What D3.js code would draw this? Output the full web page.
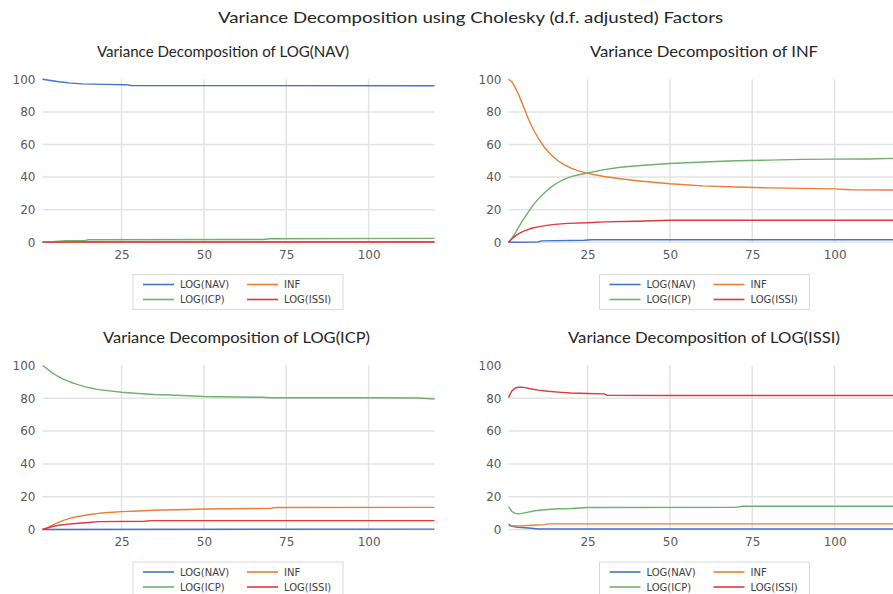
<!DOCTYPE html>
<html>
  <head>
    <meta charset="utf-8">
    <script src="https://d3js.org/d3.v7.min.js"></script>
    <title>Variance Decomposition</title>
    <style>
      body { margin: 0; background: #fff; }
      svg { display: block; }
    </style>
  </head>
  <body>

    <svg></svg>

    <script type="text/javascript">

      // ---- data ----
      var seriesNames = ["LOG(NAV)", "INF", "LOG(ICP)", "LOG(ISSI)"];
      var seriesColors = ["#4472c4", "#ed7d31", "#6cb26c", "#e0383b"];
      var mainTitle = "Variance Decomposition using Cholesky (d.f. adjusted) Factors";
      var panelTitles = ["Variance Decomposition of LOG(NAV)", "Variance Decomposition of INF",
                         "Variance Decomposition of LOG(ICP)", "Variance Decomposition of LOG(ISSI)"];
      var xTicks = [25, 50, 75, 100];
      var yTicks = [0, 20, 40, 60, 80, 100];

      // panel 1: LOG(NAV)
      var navNAV  = [[1,100],[3,99.4],[6,98.5],[9,97.8],[13,97.2],[20,96.9],[26,96.7],[28,96.2],[60,96.1],[120,96.0]];
      var navINF  = [[1,0],[10,0.2],[120,0.3]];
      var navICP  = [[1,0],[4,0.3],[7,0.8],[8,1.0],[14,1.2],[15,1.6],[68,1.7],[70,2.2],[120,2.4]];
      var navISSI = [[1,0.1],[10,0.2],[120,0.2]];

      // panel 2: INF
      var infNAV  = [[1,0],[10,0.2],[11,0.9],[24,1.3],[26,1.6],[120,1.6]];
      var infINF  = [[1,100],[2,98.5],[3,95],[4,91],[5,86],[6,81],[7,76],[8,71.5],[9,67.5],[10,64],[12,58],[14,53.5],
                     [16,50],[18,47.5],[20,45.5],[22,44],[25,42.3],[30,40.4],[35,39],[40,37.8],[45,36.8],[50,35.9],
                     [60,34.6],[70,33.9],[80,33.4],[90,33.1],[100,32.8],[105,32.2],[120,32.1]];
      var infICP  = [[1,0],[2,2.5],[3,5.5],[4,9],[5,12.5],[6,15.5],[7,18.5],[8,21.5],[9,24],[10,26.5],[12,30.5],[14,34],
                     [16,36.7],[18,38.8],[20,40.3],[22,41.3],[25,42.5],[30,44.6],[35,46],[40,47],[50,48.3],[60,49.3],
                     [70,50],[80,50.4],[90,50.9],[100,51],[110,51.1],[120,51.6]];
      var infISSI = [[1,0],[2,2],[3,3.8],[4,5.2],[5,6.3],[6,7.2],[8,8.6],[10,9.5],[12,10.2],[15,11],[19,11.6],[25,12],
                     [30,12.5],[40,12.9],[50,13.5],[120,13.5]];

      // panel 3: LOG(ICP)
      var icpNAV  = [[1,0],[120,0.2]];
      var icpINF  = [[1,0],[2,0.7],[3,1.6],[4,2.6],[5,3.6],[6,4.5],[7,5.3],[8,6],[10,7.2],[12,8],[14,8.7],[16,9.3],
                     [18,9.8],[20,10.2],[25,10.9],[30,11.3],[35,11.7],[45,12.2],[50,12.5],[70,12.9],[72,13.4],[120,13.5]];
      var icpICP  = [[1,100],[2,98.6],[3,97],[4,95.5],[5,94.2],[6,93.1],[7,92],[8,91.1],[9,90.3],[10,89.5],[12,88.2],
                     [14,87],[16,86.1],[18,85.3],[20,84.8],[25,83.7],[30,82.9],[35,82.3],[40,82],[45,81.6],[50,81.1],
                     [60,80.8],[68,80.6],[70,80.3],[100,80.3],[115,80.2],[120,79.6]];
      var icpISSI = [[1,0],[2,0.6],[3,1.2],[4,1.8],[6,2.6],[8,3.1],[11,3.7],[15,4.3],[18,4.8],[32,5],[34,5.4],[120,5.4]];

      // panel 4: LOG(ISSI)
      var issiNAV  = [[1,3.3],[2,2],[4,1.4],[8,0.8],[10,0.3],[120,0.3]];
      var issiINF  = [[1,2.2],[5,2.2],[8,2.6],[12,3],[13,3.4],[120,3.4]];
      var issiICP  = [[1,14],[2,11],[3,9.8],[4,9.6],[5,9.8],[7,10.6],[9,11.4],[12,12],[15,12.5],[20,12.8],[25,13.4],
                      [70,13.5],[72,14.2],[120,14.2]];
      var issiISSI = [[1,80.4],[2,84.5],[3,86.2],[4,86.7],[5,86.8],[6,86.5],[8,85.7],[10,85],[13,84.3],[17,83.6],
                      [20,83.2],[25,82.9],[30,82.7],[31,81.9],[50,81.7],[120,81.7]];

      var panelData = [
        [navNAV, navINF, navICP, navISSI],
        [infNAV, infINF, infICP, infISSI],
        [icpNAV, icpINF, icpICP, icpISSI],
        [issiNAV, issiINF, issiICP, issiISSI]
      ];

      // ---- layout ----
      var width = 893, height = 594;
      var panels = [
        {x0: 42.5,  x1: 434.5, yTop: 79.3,  yBot: 242.3, titleX: 223, titleW: 252, titleY: 57,  legX: 133, legY: 274.5},
        {x0: 508.5, x1: 900.5, yTop: 79.3,  yBot: 242.3, titleX: 704, titleW: 228, titleY: 57,  legX: 599.5, legY: 274.5},
        {x0: 42.5,  x1: 434.5, yTop: 365.5, yBot: 529.5, titleX: 236.5, titleW: 267, titleY: 343, legX: 133, legY: 562},
        {x0: 508.5, x1: 900.5, yTop: 365.5, yBot: 529.5, titleX: 704, titleW: 272, titleY: 343, legX: 599.5, legY: 562}
      ];

      var svg = d3.select("svg")
                  .attr("width", width)
                  .attr("height", height);

      svg.append("text")
        .attr("x", 470.5).attr("y", 23)
        .attr("text-anchor", "middle")
        .attr("textLength", 505).attr("lengthAdjust", "spacingAndGlyphs")
        .style("font-family", "Lato, 'Open Sans', sans-serif")
        .style("font-size", "15px")
        .attr("fill", "#262626")
        .text(mainTitle);

      panels.forEach(function (p, i) {
        var x = d3.scaleLinear().domain([1, 120]).range([p.x0, p.x1]);
        var y = d3.scaleLinear().domain([0, 100]).range([p.yBot, p.yTop]);
        var g = svg.append("g");

        g.append("text")
          .attr("x", p.titleX).attr("y", p.titleY)
          .attr("text-anchor", "middle")
          .attr("textLength", p.titleW).attr("lengthAdjust", "spacingAndGlyphs")
          .style("font-family", "Lato, 'Open Sans', sans-serif")
          .style("font-size", "15px")
          .attr("fill", "#262626")
          .text(panelTitles[i]);

        // grid
        g.selectAll("line.hgrid")
          .data(yTicks.filter(function (t) { return t < 100; }))
          .join("line")
          .attr("class", "hgrid")
          .attr("x1", p.x0).attr("x2", p.x1)
          .attr("y1", function (t) { return y(t); })
          .attr("y2", function (t) { return y(t); })
          .attr("stroke", "#e3e3e3").attr("stroke-width", 1.5);

        g.selectAll("line.vgrid")
          .data(xTicks)
          .join("line")
          .attr("class", "vgrid")
          .attr("x1", function (t) { return x(t); })
          .attr("x2", function (t) { return x(t); })
          .attr("y1", y(100)).attr("y2", y(0))
          .attr("stroke", "#e3e3e3").attr("stroke-width", 1.5);

        // axes (labels only)
        var yAxis = g.append("g")
          .attr("transform", "translate(" + (p.x0 - 7) + ",0)")
          .call(d3.axisLeft(y).tickValues(yTicks).tickSize(0).tickPadding(0));
        var xAxis = g.append("g")
          .attr("transform", "translate(0," + (p.yBot + 6) + ")")
          .call(d3.axisBottom(x).tickValues(xTicks).tickSize(0).tickPadding(0));
        [yAxis, xAxis].forEach(function (a) {
          a.select(".domain").remove();
          a.selectAll("text")
            .style("font-family", "'DejaVu Sans', sans-serif")
            .style("font-size", "12px")
            .attr("fill", "#595959");
        });
        xAxis.selectAll("text").attr("dy", "0.9em");

        // lines
        var line = d3.line()
          .x(function (d) { return x(d[0]); })
          .y(function (d) { return y(d[1]); });

        g.selectAll("path.series")
          .data(panelData[i])
          .join("path")
          .attr("class", "series")
          .attr("d", line)
          .attr("fill", "none")
          .attr("stroke", function (d, k) { return seriesColors[k]; })
          .attr("stroke-width", 1.4);

        // legend
        var leg = g.append("g").attr("transform", "translate(" + p.legX + "," + p.legY + ")");
        leg.append("rect")
          .attr("width", 210).attr("height", 35)
          .attr("fill", "#fff")
          .attr("stroke", "#d9d9d9").attr("stroke-width", 1);
        var items = leg.selectAll("g.item")
          .data(seriesNames)
          .join("g")
          .attr("class", "item")
          .attr("transform", function (d, k) {
            return "translate(" + (10 + (k % 2) * 104) + "," + (10 + Math.floor(k / 2) * 15) + ")";
          });
        items.append("line")
          .attr("x1", 0).attr("x2", 31)
          .attr("stroke", function (d, k) { return seriesColors[k]; })
          .attr("stroke-width", 1.6);
        items.append("text")
          .attr("x", 37).attr("dy", "0.35em")
          .style("font-family", "'DejaVu Sans', sans-serif")
          .style("font-size", "10px")
          .attr("fill", "#404040")
          .text(function (d) { return d; });
      });

    </script>
  </body>
</html>
